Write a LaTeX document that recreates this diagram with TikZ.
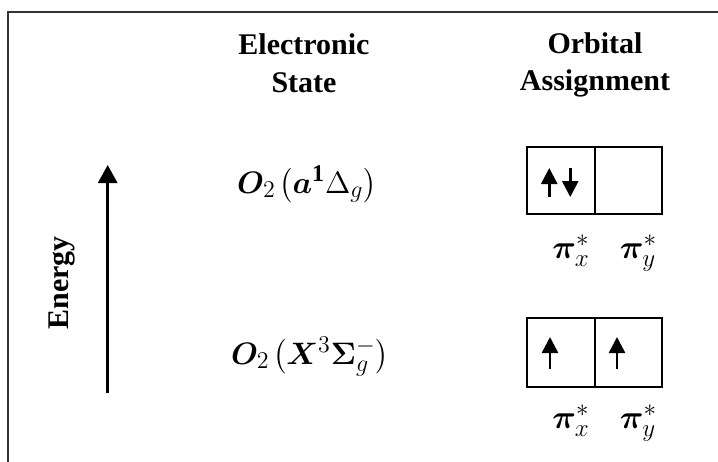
\RequirePackage{fix-cm}
\documentclass[tikz,border=0pt]{standalone}
\usepackage{amsmath,bm}
\usepackage{fontspec}
\setmainfont{Liberation Serif}
\usetikzlibrary{arrows.meta,calc}
\DeclareMathSizes{15.5}{15.5}{12}{9}
\DeclareMathSizes{16.5}{16.5}{12.5}{10}
\begin{document}
\begin{tikzpicture}[x=0.5pt,y=-0.5pt,
 hdr/.style={font=\bfseries\fontsize{15}{19}\selectfont, inner sep=0pt, anchor=base},
 state/.style={font=\fontsize{15.5}{18}\selectfont, inner sep=0pt, anchor=base},
 lbl/.style={font=\fontsize{16.5}{18}\selectfont, inner sep=0pt, anchor=base},
 cell/.style={draw, line width=1pt, minimum width=33.75pt, inner sep=0pt},
 spin/.style={line width=1.3pt, -{Triangle[length=8pt,width=8pt]}},
 energy/.style={line width=1.5pt, -{Triangle[length=9pt,width=9.5pt]}}]
\useasboundingbox (0,0) rectangle (718,461);
% frame
\draw[line width=1pt, black!80] (8,480) -- (8,12) -- (740,12);
% headers
\node[hdr] (h1a) at (304,54) {Electronic};
\node[hdr] (h1b) at (304,92) {State};
\node[hdr] (h2a) at (595,53) {Orbital};
\node[hdr] (h2b) at (595,90) {Assignment};
% energy axis
\coordinate (e0) at (107.7,393);
\coordinate (e1) at (107.7,165);
\draw[energy] (e0) -- (e1);
\node[font=\bfseries\fontsize{15}{18}\selectfont, rotate=90, inner sep=0pt] (en) at (62,283) {Energy};
% states
\node[state] (s1) at (307,193) {$\boldsymbol{O}_2\mkern2mu\bigl(\boldsymbol{a}^{\mathbf{1}}\Delta_g\bigr)$};
\node[state] (s2) at (310,364) {$\boldsymbol{O}_2\mkern2mu\bigl(\boldsymbol{X}^3\boldsymbol{\Sigma}_g^-\bigr)$};
% top orbital boxes
\node[cell, minimum height=33.5pt] (ta) at (560.75,180.5) {};
\node[cell, minimum height=33.5pt] (tb) at (628.25,180.5) {};
\draw[spin] ($(ta.center)+(-11.5,16.5)$) -- ($(ta.center)+(-11.5,-12.5)$);
\draw[spin] ($(ta.center)+(9.5,-12.5)$) -- ($(ta.center)+(9.5,16.5)$);
\node[lbl] (tpx) at (571,258) {$\boldsymbol{\pi}_x^*$};
\node[lbl] (tpy) at (638.5,258) {$\boldsymbol{\pi}_y^*$};
% bottom orbital boxes
\node[cell, minimum height=34.5pt] (ba) at (561,352.5) {};
\node[cell, minimum height=34.5pt] (bb) at (628.5,352.5) {};
\draw[spin] ($(ba.center)+(-11,16.5)$) -- ($(ba.center)+(-11,-15.5)$);
\draw[spin] ($(bb.center)+(-11.5,16.5)$) -- ($(bb.center)+(-11.5,-15.5)$);
\node[lbl] (bpx) at (571,428) {$\boldsymbol{\pi}_x^*$};
\node[lbl] (bpy) at (638.5,428) {$\boldsymbol{\pi}_y^*$};
\end{tikzpicture}
\end{document}
